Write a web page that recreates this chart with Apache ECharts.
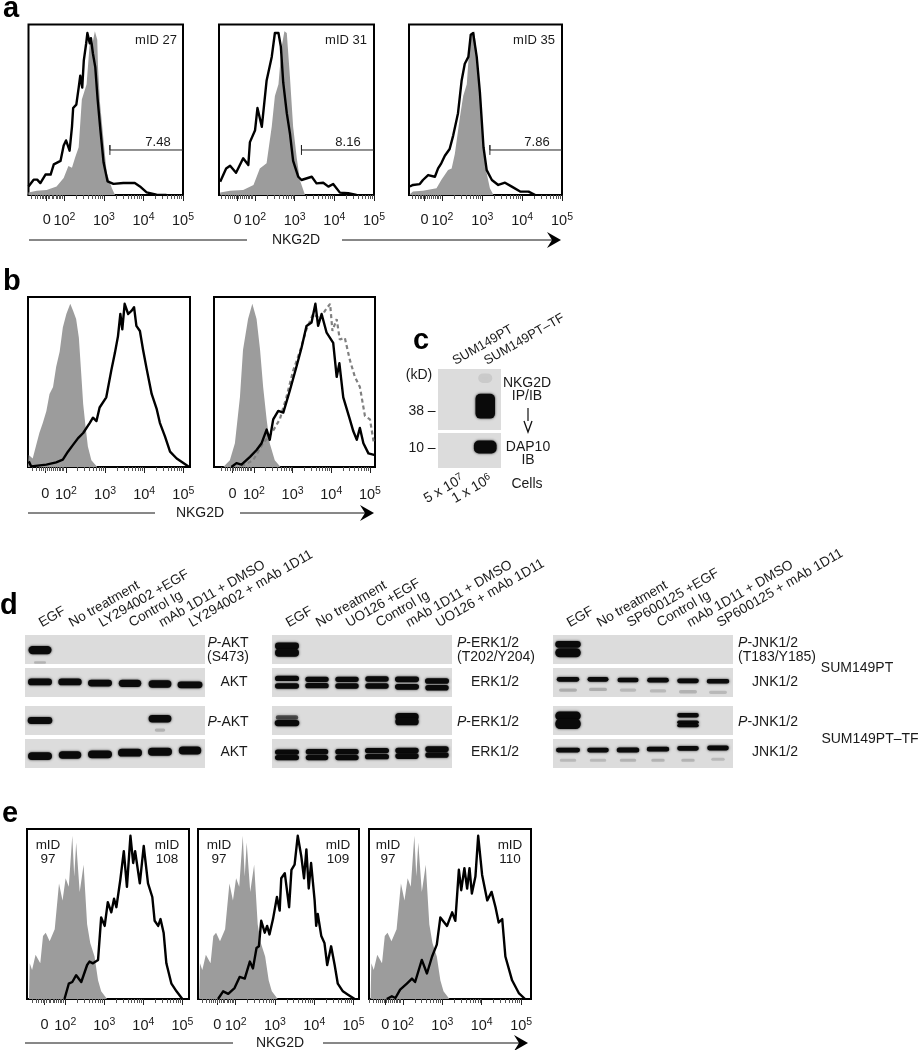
<!DOCTYPE html>
<html><head><meta charset="utf-8">
<style>html,body{margin:0;padding:0;background:#fff}#c{width:920px;height:1050px}</style>
<script src="https://cdn.jsdelivr.net/npm/echarts@6/dist/echarts.min.js"></script>
</head><body><div id="c"></div>
<script>
// ---------- Flow histograms: [log10 fluorescence, % of max] ----------
const a1Iso=[[1.09,1.5],[1.3,2.5],[1.55,3],[1.8,5],[1.98,10],[2.1,17],[2.19,16],[2.27,22],[2.36,28],[2.44,56],[2.56,65],[2.64,89],[2.71,89],[2.77,96],[2.83,91],[2.85,75],[2.9,54],[2.99,32],[3.07,13],[3.2,4],[3.28,0]];
const a1Ab=[[1.09,5],[1.22,9],[1.31,9],[1.39,7],[1.52,12],[1.65,12],[1.73,18],[1.9,20],[1.98,29],[2.04,32],[2.13,26],[2.19,40],[2.22,51],[2.3,53],[2.36,63],[2.4,70],[2.45,63],[2.49,79],[2.55,89],[2.58,95],[2.64,89],[2.67,92],[2.72,83],[2.78,75],[2.84,56],[2.91,38],[2.99,19],[3.09,8],[3.24,6.5],[3.49,7],[3.78,7],[3.91,5],[4.08,1.5],[4.33,0.2],[4.58,0]];
const a2Iso=[[1.12,1.4],[1.37,2.5],[1.7,2.9],[1.96,5.9],[2.12,15.6],[2.29,18.6],[2.42,40],[2.5,58],[2.59,65],[2.67,87],[2.74,96],[2.8,95],[2.88,69],[2.96,40],[3.05,22],[3.13,8.8],[3.26,0]];
const a2Ab=[[1.12,7.8],[1.27,15.6],[1.37,17.2],[1.52,13],[1.7,21.5],[1.83,17.6],[1.87,31],[2,38],[2.06,51],[2.17,40],[2.29,67],[2.42,81],[2.5,95],[2.59,95],[2.65,87],[2.71,66],[2.8,48],[2.88,36],[2.96,20],[3.09,10.7],[3.17,8.8],[3.43,10.7],[3.55,6.8],[3.72,7.2],[3.85,4.9],[3.97,6.5],[4.14,1.4],[4.35,1],[4.56,0]];
const a3Iso=[[1.18,0.4],[1.26,2],[1.51,2.5],[1.85,3.9],[1.97,8.8],[2.14,14.6],[2.23,15.6],[2.31,24],[2.44,46],[2.52,58],[2.61,65],[2.67,85],[2.73,93],[2.8,96],[2.86,83],[2.94,60],[3.03,26],[3.11,12.7],[3.19,3.9],[3.28,0]];
const a3Ab=[[1.18,5],[1.26,5.9],[1.43,6.4],[1.51,8.8],[1.64,11.7],[1.81,10.7],[1.89,15.6],[1.97,18.6],[2.06,23],[2.18,27],[2.27,35],[2.39,48],[2.48,67],[2.56,77],[2.65,81],[2.71,94],[2.77,95],[2.86,81],[2.94,60],[3.03,28],[3.11,14.6],[3.24,8.8],[3.4,5.9],[3.57,7.2],[3.74,4.9],[3.95,2],[4.16,2],[4.33,0]];
const b1Iso=[[1.03,0],[1.05,7],[1.15,5],[1.24,13],[1.32,20],[1.41,26],[1.5,33],[1.58,43],[1.67,47],[1.75,59],[1.84,68],[1.92,82],[2.01,90],[2.11,96],[2.18,92],[2.26,87],[2.33,76],[2.39,55],[2.44,37],[2.5,24],[2.56,12],[2.65,4],[2.8,0]];
const b1Ab=[[1.05,3.3],[1.11,0.4],[1.5,1.4],[1.75,2.7],[1.92,4.3],[2.05,9],[2.18,13],[2.31,17],[2.44,20],[2.61,26],[2.69,29],[2.78,27],[2.86,35],[3.03,41],[3.16,57],[3.25,67],[3.33,77],[3.39,90],[3.44,81],[3.5,96],[3.59,90],[3.68,92],[3.74,94],[3.8,83],[3.89,80],[3.97,69],[4.06,58],[4.19,43],[4.32,34],[4.4,26],[4.53,18],[4.66,9],[4.83,5],[5,2.3],[5.15,0]];
const b2Iso=[[1.21,0],[1.38,4],[1.51,14],[1.64,41],[1.72,69],[1.85,87],[1.96,96],[2.07,87],[2.16,69],[2.24,47],[2.33,28],[2.41,14],[2.54,4],[2.69,0]];
const b2Ab=[[1.42,0],[1.55,2.3],[1.68,1.4],[1.9,6],[2.07,10],[2.2,14],[2.33,22],[2.41,16],[2.5,28],[2.63,33],[2.76,32],[2.93,45],[3.1,59],[3.23,70],[3.36,83],[3.49,85],[3.59,96],[3.66,83],[3.75,90],[3.88,79],[4.05,73],[4.14,53],[4.21,61],[4.31,41],[4.48,28],[4.57,21],[4.66,16],[4.74,23],[4.83,14],[4.96,8],[5.13,7]];
const b2Alt=[[1.68,0.4],[1.98,4],[2.24,14],[2.46,20],[2.67,28],[2.84,41],[3.02,57],[3.19,68],[3.36,81],[3.53,90],[3.71,87],[3.84,92],[3.97,96],[4.03,80],[4.14,87],[4.22,75],[4.35,76],[4.48,63],[4.61,53],[4.74,47],[4.87,30],[5,28],[5.1,14]];
const e1Iso=[[1.07,0],[1.09,21],[1.15,17],[1.24,26],[1.36,21],[1.43,37],[1.5,39],[1.6,34],[1.73,41],[1.84,68],[1.93,58],[2.01,71],[2.09,66],[2.18,96],[2.23,72],[2.28,92],[2.37,63],[2.47,79],[2.56,44],[2.64,33],[2.75,25],[2.84,11],[2.92,4.5],[3.07,0]];
const e3Iso=[[1.18,0],[1.2,21],[1.26,17],[1.35,26],[1.47,21],[1.54,37],[1.61,39],[1.71,34],[1.84,41],[1.95,68],[2.04,58],[2.12,71],[2.2,66],[2.29,96],[2.34,72],[2.39,92],[2.48,63],[2.58,79],[2.67,44],[2.75,33],[2.86,25],[2.95,11],[3.03,4.5],[3.18,0]];
const e1Ab=[[1.98,0],[2.09,9],[2.18,10],[2.28,14],[2.41,10],[2.56,20],[2.62,22],[2.71,21],[2.84,23],[2.92,48],[3.01,43],[3.09,57],[3.18,51],[3.25,59],[3.31,54],[3.41,70],[3.5,87],[3.58,66],[3.67,96],[3.74,80],[3.79,87],[3.91,68],[4.01,90],[4.12,68],[4.23,60],[4.29,46],[4.38,43],[4.44,47],[4.52,39],[4.59,21],[4.72,9],[4.85,4.5],[5,0]];
const e2Ab=[[1.55,0],[1.68,4.5],[1.81,3],[1.97,6.4],[2.1,13],[2.23,12],[2.36,22],[2.44,18],[2.53,30],[2.59,31],[2.65,46],[2.74,39],[2.8,43],[2.86,38],[2.95,47],[3.05,60],[3.12,52],[3.16,71],[3.25,74],[3.36,54],[3.42,76],[3.5,79],[3.58,96],[3.67,84],[3.74,71],[3.8,88],[3.86,65],[3.92,80],[4.01,58],[4.05,43],[4.09,50],[4.18,37],[4.26,33],[4.33,20],[4.43,31],[4.52,20],[4.6,9],[4.73,4.5],[4.86,2.5],[5.03,0]];
const e3Ab=[[1.59,0],[1.72,1.6],[1.81,0.6],[1.93,5.5],[2.1,9],[2.23,12],[2.31,10],[2.48,23],[2.61,15],[2.74,25],[2.86,32],[2.95,48],[3.12,43],[3.25,51],[3.33,46],[3.42,76],[3.48,64],[3.56,77],[3.63,65],[3.69,77],[3.75,62],[3.84,72],[3.91,96],[4.01,73],[4.14,58],[4.25,63],[4.35,54],[4.43,45],[4.52,47],[4.6,25],[4.77,11],[4.94,3.5],[5.1,0]];
// gates
const gateA1=[[3.15,23.5],[3.15,29.3],[3.15,26.4],[5,26.4]];
const gateA2=[[3.17,23.5],[3.17,29.3],[3.17,26.4],[5,26.4]];
const gateA3=[[3.19,23.5],[3.19,29.3],[3.19,26.4],[5,26.4]];
// tick labels
const decadeTicks=[2,3,4,5];
const minorLow=[1.15,1.25,1.32,1.38,1.43,1.47,1.52,1.58,1.62,1.68,1.72,1.78,1.82,1.86,1.9,1.94];
const minorMultiples=[2,3,4,5,6,7,8,9];
// ---------- Blots: [lane, height in row %, width in lanes, thickness %, density] ----------
const lanesAKT=['EGF','No treatment','LY294002 +EGF','Control Ig','mAb 1D11 + DMSO','LY294002 + mAb 1D11'];
const lanesERK=['EGF','No treatment','UO126 +EGF','Control Ig','mAb 1D11 + DMSO','UO126 + mAb 1D11'];
const lanesJNK=['EGF','No treatment','SP600125 +EGF','Control Ig','mAb 1D11 + DMSO','SP600125 + mAb 1D11'];
const lanesC=['SUM149PT','SUM149PT–TF'];
const cellsC=['5 x 10{s|7}','1 x 10{s|6}'];
const pAKT1=[[0,48,.77,25,1],[0,5,.4,5,.18]];
const akt1=[[0,52,.8,20,1],[1,52,.78,20,1],[2,48,.8,20,1],[3,47,.75,22,1],[4,45,.76,22,1],[5,42,.83,20,1]];
const pAKT2=[[0,50,.82,20,1],[4,56,.76,22,1],[4,17,.35,8,.18]];
const akt2=[[0,41,.8,24,1],[1,45,.75,22,1],[2,47,.8,24,1],[3,53,.8,24,1],[4,56,.8,24,1],[5,60,.75,24,1]];
const pERK1=[[0,62,.8,20,1],[0,39,.8,24,1]];
const erk1=[[0,64,.8,15,1],[0,38,.8,15,1],[1,61,.78,15,1],[1,39,.78,15,1],[2,61,.78,15,1],[2,38,.78,15,1],[3,62,.78,15,1],[3,38,.78,15,1],[4,61,.8,16,1],[4,35,.8,16,1],[5,55,.8,16,1],[5,32,.78,16,1]];
const pERK2=[[0,60,.75,12,.6],[0,41,.82,18,1],[4,63,.78,22,1],[4,46,.78,22,1]];
const erk2=[[0,55,.8,15,1],[0,36,.8,15,1],[1,56,.75,15,1],[1,36,.75,15,1],[2,56,.78,15,1],[2,36,.78,15,1],[3,60,.8,15,1],[3,39,.8,15,1],[4,60,.78,16,1],[4,41,.78,16,1],[5,65,.78,16,1],[5,45,.78,16,1]];
const pJNK1=[[0,68,.85,20,1],[0,39,.85,28,1]];
const jnk1=[[0,61,.75,13,1],[1,61,.7,13,1],[2,59,.7,12,1],[3,58,.72,13,1],[4,56,.72,13,1],[5,54,.75,12,1],[0,24,.6,8,.2],[1,26,.6,8,.2],[2,24,.55,8,.15],[3,21,.55,8,.15],[4,18,.6,8,.18],[5,16,.6,8,.15]];
const pJNK2=[[0,66,.85,26,1],[0,38,.85,32,1],[4,68,.72,12,1],[4,44,.72,9,1],[4,33,.72,9,1]];
const jnk2=[[0,62,.8,13,1],[1,62,.72,13,1],[2,62,.75,14,1],[3,65,.75,13,1],[4,68,.72,13,1],[5,69,.72,13,1],[0,27,.55,7,.15],[1,27,.55,7,.15],[2,27,.55,7,.18],[3,27,.45,7,.18],[4,27,.45,7,.18],[5,30,.45,7,.15]];
const nkg2dBlot=[[1,39,.62,39,1],[1,85,.45,14,.08]];
const dap10Blot=[[1,60,.72,34,1]];

const FONT='"Liberation Sans", Arial, sans-serif', INK='#1a1a1a', GREY='#9c9c9c', BLOT='#dcdcdc';
const superRich={s:{fontSize:10.5,fontFamily:FONT,color:INK,verticalAlign:'top',padding:[0,0,7,0]}};
const grids=[],xAxes=[],yAxes=[],series=[];

function minors(){const out=minorLow.slice();for(const d of [2,3,4])for(const k of minorMultiples)out.push(d+Math.log10(k));return out;}

function flowPanel(p){
  const g=grids.length;
  grids.push({left:p.x0,top:p.y0,width:p.x1-p.x0,height:p.y1-p.y0,show:true,borderColor:'#000',borderWidth:2,backgroundColor:'#fff'});
  const ax=xAxes.length, zero=p.zero;
  xAxes.push({type:'value',gridIndex:g,position:'bottom',min:p.min,max:p.max,splitLine:{show:false},
    axisLine:{show:true,lineStyle:{color:'#000',width:2}},
    axisTick:{show:true,length:6,customValues:[zero].concat(decadeTicks),lineStyle:{color:'#222',width:1}},
    axisLabel:{show:true,margin:p.margin||17,color:INK,fontSize:14.5,fontFamily:FONT,customValues:[zero].concat(decadeTicks),hideOverlap:false,showMinLabel:true,showMaxLabel:true,
      formatter:v=>Math.abs(v-zero)<1e-6?'0':'10{s|'+Math.round(v)+'}',rich:superRich}});
  xAxes.push({type:'value',gridIndex:g,position:'bottom',min:p.min,max:p.max,splitLine:{show:false},axisLine:{show:false},axisLabel:{show:false},
    axisTick:{show:true,length:4,customValues:minors(),lineStyle:{color:'#555',width:1}}});
  const ay=yAxes.length;
  yAxes.push({type:'value',gridIndex:g,min:0,max:100,show:false});
  const base={type:'line',xAxisIndex:ax,yAxisIndex:ay,showSymbol:false,symbol:'none',silent:true,animation:false};
  series.push({...base,name:'isotype',data:p.iso,lineStyle:{width:0},itemStyle:{color:GREY},areaStyle:{color:GREY,opacity:1},z:2});
  if(p.alt)series.push({...base,name:'alt',data:p.alt,lineStyle:{color:'#808080',width:2.2,type:[4,3]},itemStyle:{color:'#808080'},z:3});
  series.push({...base,name:'NKG2D',data:p.ab,lineStyle:{color:'#000',width:2.4,join:'round'},itemStyle:{color:'#000'},z:4});
  if(p.gate)series.push({...base,name:'gate',data:p.gate,lineStyle:{color:'#222',width:1},itemStyle:{color:'#222'},z:4});
}

function bandItem(params,api){
  const c=api.coord([api.value(0),api.value(1)]);
  const w=api.size([1,0])[0]*api.value(2), h=api.size([0,api.value(3)])[1]+1, op=api.value(4);
  const r=Math.min(h/2,5);
  return {type:'rect',shape:{x:c[0]-w/2,y:c[1]-h/2,width:w,height:h,r:[r,r,r,r]},
    style:{fill:'#0a0a0a',opacity:op,shadowBlur:op<1?3:2.5,shadowColor:'rgba(0,0,0,'+(op<1?op:.8)+')'}};
}

function blotRow(x,y,w,h,cats,bands,top){
  const g=grids.length;
  grids.push({left:x,top:y,width:w,height:h,show:true,borderWidth:0,backgroundColor:BLOT});
  const ax=xAxes.length;
  xAxes.push({type:'category',gridIndex:g,position:'top',data:cats,axisLine:{show:false},axisTick:{show:false},splitLine:{show:false},
    axisLabel:{show:!!top,interval:0,rotate:30,margin:top?top.margin:0,color:INK,fontSize:top?top.size:14,fontFamily:FONT,hideOverlap:false}});
  const ay=yAxes.length;
  yAxes.push({type:'value',gridIndex:g,min:0,max:100,show:false});
  series.push({type:'custom',xAxisIndex:ax,yAxisIndex:ay,data:bands,renderItem:bandItem,silent:true,animation:false,clip:true,
    encode:{x:0,y:1},z:3});
}

// Panel a
flowPanel({x0:28.5,x1:183,y0:24.5,y1:195,min:1.09,max:5,zero:1.55,iso:a1Iso,ab:a1Ab,gate:gateA1});
flowPanel({x0:219,x1:374,y0:24.5,y1:195,min:1.09,max:5,zero:1.56,iso:a2Iso,ab:a2Ab,gate:gateA2});
flowPanel({x0:409,x1:562,y0:24.5,y1:195,min:1.16,max:5,zero:1.55,iso:a3Iso,ab:a3Ab,gate:gateA3});
// Panel b
flowPanel({x0:28,x1:190,y0:297,y1:467,min:1.03,max:5.17,zero:1.47,iso:b1Iso,ab:b1Ab,margin:19});
flowPanel({x0:214,x1:375,y0:297,y1:467,min:.97,max:5.13,zero:1.45,iso:b2Iso,ab:b2Ab,alt:b2Alt,margin:19});
// Panel e
flowPanel({x0:27,x1:189,y0:829,y1:999,min:1.02,max:5.17,zero:1.47,iso:e1Iso,ab:e1Ab,margin:18});
flowPanel({x0:198,x1:359,y0:829,y1:999,min:1.04,max:5.14,zero:1.53,iso:e1Iso,ab:e2Ab,margin:18});
flowPanel({x0:369,x1:531,y0:829,y1:999,min:1.14,max:5.25,zero:1.55,iso:e3Iso,ab:e3Ab,margin:18});
// Panel c
blotRow(438,369,63,61,lanesC,nkg2dBlot,{margin:7,size:13});
blotRow(438,433,63,35,lanesC,dap10Blot,null);
// Panel d
const rowsY=[[635,29],[668,29],[706,29],[739,29]];
[[25,lanesAKT,[pAKT1,akt1,pAKT2,akt2]],[272,lanesERK,[pERK1,erk1,pERK2,erk2]],[553,lanesJNK,[pJNK1,jnk1,pJNK2,jnk2]]].forEach(([x,cats,rows])=>{
  rows.forEach((bands,i)=>blotRow(x,rowsY[i][0],180,rowsY[i][1],cats,bands,i===0?{margin:11,size:13.7}:null));
});

// ---------- Annotations ----------
const gfx=[];
function T(x,y,text,o,rot){gfx.push({type:'text',silent:true,x,y,z:20,rotation:rot||0,style:Object.assign({text,fill:INK,font:'14px '+FONT,align:'center',verticalAlign:'middle'},o||{})});}
const P={rich:{i:{fontStyle:'italic',fontSize:14,fontFamily:FONT,fill:INK}}};
function L(x1,y1,x2,y2,w){gfx.push({type:'line',silent:true,z:20,shape:{x1,y1,x2,y2},style:{stroke:'#111',lineWidth:w||1}});}
function arrowR(x,y){gfx.push({type:'polygon',silent:true,z:20,shape:{points:[[x,y],[x-14,y-8],[x-9,y],[x-14,y+8]]},style:{fill:'#000'}});}
const letter={font:'bold 29px '+FONT,fill:'#000',align:'left',verticalAlign:'bottom'};
T(3,23,'a',letter);T(3,296,'b',letter);T(413,355,'c',letter);T(0,620,'d',letter);T(2,828,'e',letter);
const mid={font:'13px '+FONT,align:'right'};
T(177,40,'mID 27',mid);T(367,40,'mID 31',mid);T(555,40,'mID 35',mid);
T(158,142,'7.48',{font:'13px '+FONT});T(348,142,'8.16',{font:'13px '+FONT});T(537,142,'7.86',{font:'13px '+FONT});
// axis captions
L(29,240,247,240);L(342,240,558,240);arrowR(561,240);T(296,240,'NKG2D');
L(28,513,155,513);L(240,513,371,513);arrowR(374,513);T(200,513,'NKG2D');
L(25,1043,233,1043);L(323,1043,525,1043);arrowR(528,1043);T(280,1043,'NKG2D');
// e mID
[[48,167,'108'],[219,338,'109'],[388,510,'110']].forEach(([l,r,v])=>{
  const o={font:'13.5px '+FONT};T(l,845,'mID',o);T(l,859,'97',o);T(r,845,'mID',o);T(r,859,v,o);
});
// c labels
T(419,375,'(kD)');T(422,411,'38 –');T(422,448,'10 –');
T(527,383,'NKG2D');T(527,396,'IP/IB');T(528,447,'DAP10');T(528,460,'IB');T(527,484,'Cells');
const cellsRich={rich:{s:{fontSize:10,fontFamily:FONT,fill:INK,verticalAlign:'top',padding:[0,0,6,0]}}};
T(444,489,cellsC[0],cellsRich,Math.PI/6);T(472,489,cellsC[1],cellsRich,Math.PI/6);
L(528,408,528,421,1.2);
gfx.push({type:'polyline',silent:true,z:20,shape:{points:[[524,421],[528,432],[532,421]]},style:{stroke:'#111',fill:null,lineWidth:1.3}});
// d labels
T(228,643,'{i|P}-AKT',P);T(228,657,'(S473)');T(234,682,'AKT');T(228,722,'{i|P}-AKT',P);T(234,752,'AKT');
T(488,643,'{i|P}-ERK1/2',P);T(496,657,'(T202/Y204)');T(495,682,'ERK1/2');T(488,722,'{i|P}-ERK1/2',P);T(495,752,'ERK1/2');
T(768,643,'{i|P}-JNK1/2',P);T(777,657,'(T183/Y185)');T(775,682,'JNK1/2');T(768,722,'{i|P}-JNK1/2',P);T(775,752,'JNK1/2');
T(857,668,'SUM149PT');T(870,739,'SUM149PT–TF');

const chart=echarts.init(document.getElementById('c'),null,{renderer:'canvas',width:920,height:1050});
chart.setOption({animation:false,backgroundColor:'#fff',textStyle:{fontFamily:FONT},grid:grids,xAxis:xAxes,yAxis:yAxes,series,graphic:{elements:gfx}});
</script></body></html>
